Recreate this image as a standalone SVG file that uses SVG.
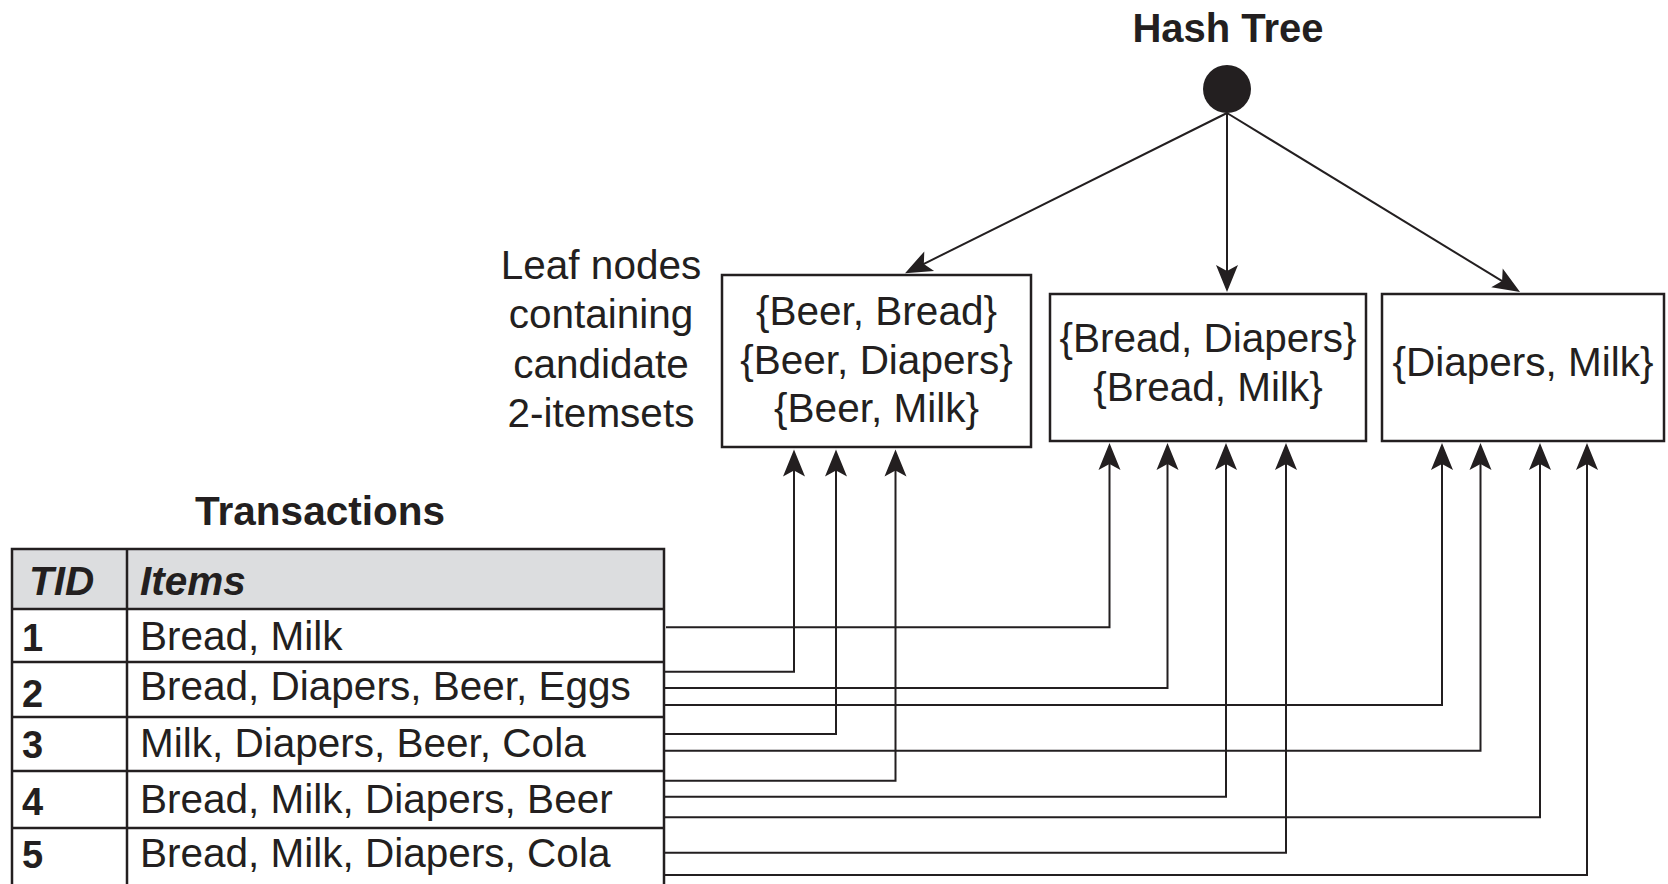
<svg xmlns="http://www.w3.org/2000/svg" width="1668" height="884" viewBox="0 0 1668 884">
  <style>
    text { font-family: "Liberation Sans", Arial, Helvetica, sans-serif; fill: #231f20; }
    .title { font-size: 40.5px; font-weight: bold; text-anchor: middle; }
    .lbl { font-size: 40.5px; text-anchor: middle; }
    .cell { font-size: 40.5px; }
    .num { font-size: 38px; font-weight: bold; }
    .head { font-size: 40.5px; font-weight: bold; font-style: italic; }
    .box { fill: #ffffff; stroke: #231f20; stroke-width: 2.5; }
    .grid { fill: none; stroke: #231f20; stroke-width: 2.5; }
    .wire { fill: none; stroke: #231f20; stroke-width: 2; marker-end: url(#arrow); }
  </style>
  <defs>
    <marker id="arrow" markerUnits="userSpaceOnUse" markerWidth="28" markerHeight="24" viewBox="0 -12 28 24" refX="21" refY="0" orient="auto" overflow="visible">
      <path d="M27,0 L0,-11 L6,0 L0,11 Z" fill="#231f20"/>
    </marker>
  </defs>

  <rect width="1668" height="884" fill="#ffffff"/>

  <!-- hash tree root -->
  <g id="root">
    <text class="title" x="1228" y="42" style="font-size:40px">Hash Tree</text>
    <circle cx="1227" cy="89" r="24" fill="#231f20"/>
  </g>

  <!-- caption for the leaves -->
  <g id="leaf-caption">
    <text class="lbl" x="601" y="279">Leaf nodes</text>
    <text class="lbl" x="601" y="328">containing</text>
    <text class="lbl" x="601" y="378">candidate</text>
    <text class="lbl" x="601" y="427">2-itemsets</text>
  </g>

  <!-- leaf nodes -->
  <g id="leaf-1">
    <rect class="box" x="722" y="275" width="309" height="172"/>
    <text class="lbl" x="876.5" y="325">{Beer, Bread}</text>
    <text class="lbl" x="876.5" y="374">{Beer, Diapers}</text>
    <text class="lbl" x="876.5" y="422">{Beer, Milk}</text>
  </g>
  <g id="leaf-2">
    <rect class="box" x="1050" y="294" width="316" height="147"/>
    <text class="lbl" x="1208" y="352">{Bread, Diapers}</text>
    <text class="lbl" x="1208" y="401">{Bread, Milk}</text>
  </g>
  <g id="leaf-3">
    <rect class="box" x="1382" y="294" width="282" height="147"/>
    <text class="lbl" x="1523" y="376">{Diapers, Milk}</text>
  </g>

  <!-- transaction table -->
  <g id="transactions">
    <text class="title" x="320" y="525">Transactions</text>
    <rect x="12" y="549" width="652" height="60" fill="#dcdddf"/>
    <path class="grid" d="M12,890 V549 H664 V890 M127,549 V890 M12,609 H664 M12,662 H664 M12,717 H664 M12,771 H664 M12,828 H664"/>
    <text class="head" x="29" y="595">TID</text>
    <text class="head" x="140" y="595">Items</text>
    <text class="num" x="22" y="651">1</text>
    <text class="num" x="22" y="707">2</text>
    <text class="num" x="22" y="758">3</text>
    <text class="num" x="22" y="815">4</text>
    <text class="num" x="22" y="868">5</text>
    <text class="cell" x="140" y="650">Bread, Milk</text>
    <text class="cell" x="140" y="700">Bread, Diapers, Beer, Eggs</text>
    <text class="cell" x="140" y="757">Milk, Diapers, Beer, Cola</text>
    <text class="cell" x="140" y="813">Bread, Milk, Diapers, Beer</text>
    <text class="cell" x="140" y="867">Bread, Milk, Diapers, Cola</text>
  </g>

  <!-- connectors -->
  <g id="connectors">
    <!-- root to leaves -->
    <path class="wire" d="M1227,113 L910.4,270.6"/>
    <path class="wire" d="M1227,113 L1227,286"/>
    <path class="wire" d="M1227,113 L1514.9,288.9"/>
    <!-- transactions to leaves -->
    <path class="wire" d="M666,627.3 H1109.5 V449"/>
    <path class="wire" d="M664,671.7 H794 V455.5"/>
    <path class="wire" d="M664,688 H1167.5 V449"/>
    <path class="wire" d="M664,705 H1442 V449"/>
    <path class="wire" d="M664,734 H836 V455.5"/>
    <path class="wire" d="M664,750.7 H1480.5 V449"/>
    <path class="wire" d="M664,780.7 H895.5 V455.5"/>
    <path class="wire" d="M664,796.7 H1226 V449"/>
    <path class="wire" d="M664,817.3 H1540 V449"/>
    <path class="wire" d="M664,852.7 H1286 V449"/>
    <path class="wire" d="M664,875 H1587 V449"/>
  </g>
</svg>
